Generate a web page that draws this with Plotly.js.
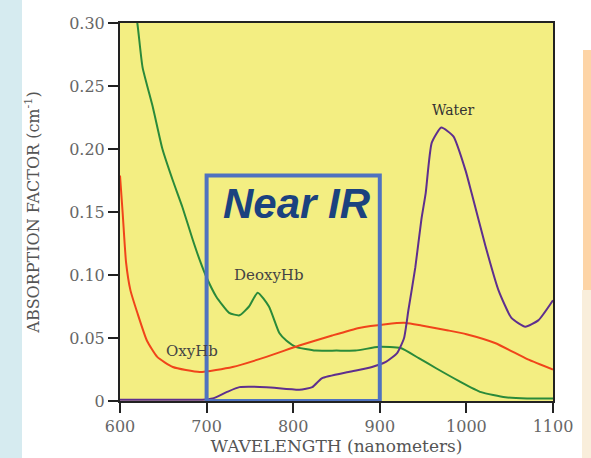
<!DOCTYPE html>
<html>
<head>
<meta charset="utf-8">
<script src="https://cdn.plot.ly/plotly-3.0.1.min.js"></script>
<style>
html,body{margin:0;padding:0;background:#fff;}
#chart{width:591px;height:458px;}
</style>
</head>
<body>
<div id="chart"></div>
<script>
// DeoxyHb (green)
const deoxyWl  = [612, 620, 626, 638, 649, 661, 672, 684, 692, 700, 711, 726, 738, 749, 759, 772, 784, 792, 803, 826, 850, 872, 899, 924, 945, 965, 991, 1017, 1045, 1070, 1100];
const deoxyVal = [0.33, 0.30, 0.265, 0.233, 0.20, 0.175, 0.154, 0.128, 0.112, 0.098, 0.083, 0.070, 0.068, 0.075, 0.086, 0.075, 0.054, 0.048, 0.043, 0.040, 0.040, 0.040, 0.043, 0.042, 0.034, 0.026, 0.016, 0.007, 0.003, 0.002, 0.002];
// OxyHb (red)
const oxyWl  = [600, 603, 607, 612, 620, 631, 643, 661, 692, 730, 769, 807, 845, 876, 907, 930, 948, 979, 1000, 1033, 1071, 1100];
const oxyVal = [0.179, 0.150, 0.110, 0.088, 0.070, 0.048, 0.035, 0.027, 0.023, 0.027, 0.035, 0.044, 0.052, 0.058, 0.061, 0.062, 0.060, 0.056, 0.053, 0.046, 0.033, 0.025];
// Water (purple)
const waterWl  = [600, 650, 695, 707, 723, 738, 769, 807, 822, 833, 864, 891, 907, 920, 928, 933, 941, 948, 953, 960, 971, 985, 999, 1006, 1022, 1037, 1052, 1068, 1083, 1100];
const waterVal = [0.001, 0.001, 0.001, 0.002, 0.007, 0.011, 0.011, 0.009, 0.011, 0.018, 0.023, 0.027, 0.031, 0.038, 0.050, 0.072, 0.106, 0.144, 0.165, 0.205, 0.217, 0.210, 0.183, 0.165, 0.123, 0.088, 0.066, 0.059, 0.064, 0.080];

const xTicks = [600, 700, 800, 900, 1000, 1100];
const xTickText = ["600", "700", "800", "900", "1000", "1100"];
const yTicks = [0, 0.05, 0.10, 0.15, 0.20, 0.25, 0.30];
const yTickText = ["0", "0.05", "0.10", "0.15", "0.20", "0.25", "0.30"];
const nearIR = [700, 900];

const W = 591, L = 120, R = 38;
const pw = W - L - R;
function px(p){ return (p - L) / pw; }

const traces = [
  {x: deoxyWl, y: deoxyVal, mode: 'lines', name: 'DeoxyHb', line: {color: '#2a8a3a', width: 2, shape: 'spline', smoothing: 0.5}},
  {x: oxyWl, y: oxyVal, mode: 'lines', name: 'OxyHb', line: {color: '#f0441a', width: 2, shape: 'spline', smoothing: 0.5}},
  {x: waterWl, y: waterVal, mode: 'lines', name: 'Water', line: {color: '#5e2f8e', width: 2, shape: 'spline', smoothing: 0.5}}
];

const serif = 'DejaVu Serif, serif';
const tfont = {family: serif, size: 16, color: '#666'};

const layout = {
  width: 591, height: 458,
  margin: {l: L, r: R, t: 23, b: 57},
  paper_bgcolor: '#ffffff',
  plot_bgcolor: '#f3ee82',
  showlegend: false,
  xaxis: {
    range: [600, 1100], tickvals: xTicks, ticktext: xTickText,
    ticks: 'outside', ticklen: 10, tickwidth: 2, tickcolor: '#222',
    showline: true, linecolor: '#222', linewidth: 2, mirror: true,
    showgrid: false, zeroline: false, tickfont: tfont,
    title: {text: 'WAVELENGTH (nanometers)', font: {family: serif, size: 17, color: '#555'}, standoff: 4}
  },
  yaxis: {
    range: [0, 0.30], tickvals: yTicks, ticktext: yTickText,
    ticks: 'outside', ticklen: 10, tickwidth: 2, tickcolor: '#222',
    showline: true, linecolor: '#222', linewidth: 2, mirror: true,
    showgrid: false, zeroline: false, tickfont: tfont,
    title: {text: 'ABSORPTION FACTOR (cm<sup>-1</sup>)', font: {family: serif, size: 16, color: '#555'}, standoff: 26}
  },
  shapes: [
    {type: 'rect', xref: 'paper', yref: 'paper', x0: px(0), x1: px(22), y0: -0.2, y1: 1.07, fillcolor: '#d6ebf0', line: {width: 0}, layer: 'below'},
    {type: 'rect', xref: 'paper', yref: 'paper', x0: px(583), x1: px(591), y0: (401 - 290) / 378, y1: (401 - 50) / 378, fillcolor: '#fdd4a6', line: {width: 0}, layer: 'below'},
    {type: 'rect', xref: 'paper', yref: 'paper', x0: px(582), x1: px(591), y0: -0.2, y1: (401 - 290) / 378, fillcolor: '#f9eedb', line: {width: 0}, layer: 'below'},
    {type: 'rect', xref: 'x', yref: 'y', x0: nearIR[0], x1: nearIR[1], y0: 0, y1: 0.179, line: {color: '#4f72bf', width: 4}, fillcolor: 'rgba(0,0,0,0)'}
  ],
  annotations: [
    {x: 804, y: 0.157, xref: 'x', yref: 'y', text: '<b><i>Near IR</i></b>', showarrow: false, font: {family: 'Liberation Sans, Arial, sans-serif', size: 42, color: '#1b427f'}},
    {x: 985, y: 0.231, xref: 'x', yref: 'y', text: 'Water', showarrow: false, font: {family: serif, size: 14, color: '#333'}},
    {x: 772, y: 0.100, xref: 'x', yref: 'y', text: 'DeoxyHb', showarrow: false, font: {family: serif, size: 15, color: '#444'}},
    {x: 683, y: 0.040, xref: 'x', yref: 'y', text: 'OxyHb', showarrow: false, font: {family: serif, size: 15, color: '#444'}}
  ]
};

Plotly.newPlot('chart', traces, layout, {displayModeBar: false, staticPlot: true});
</script>
</body>
</html>
